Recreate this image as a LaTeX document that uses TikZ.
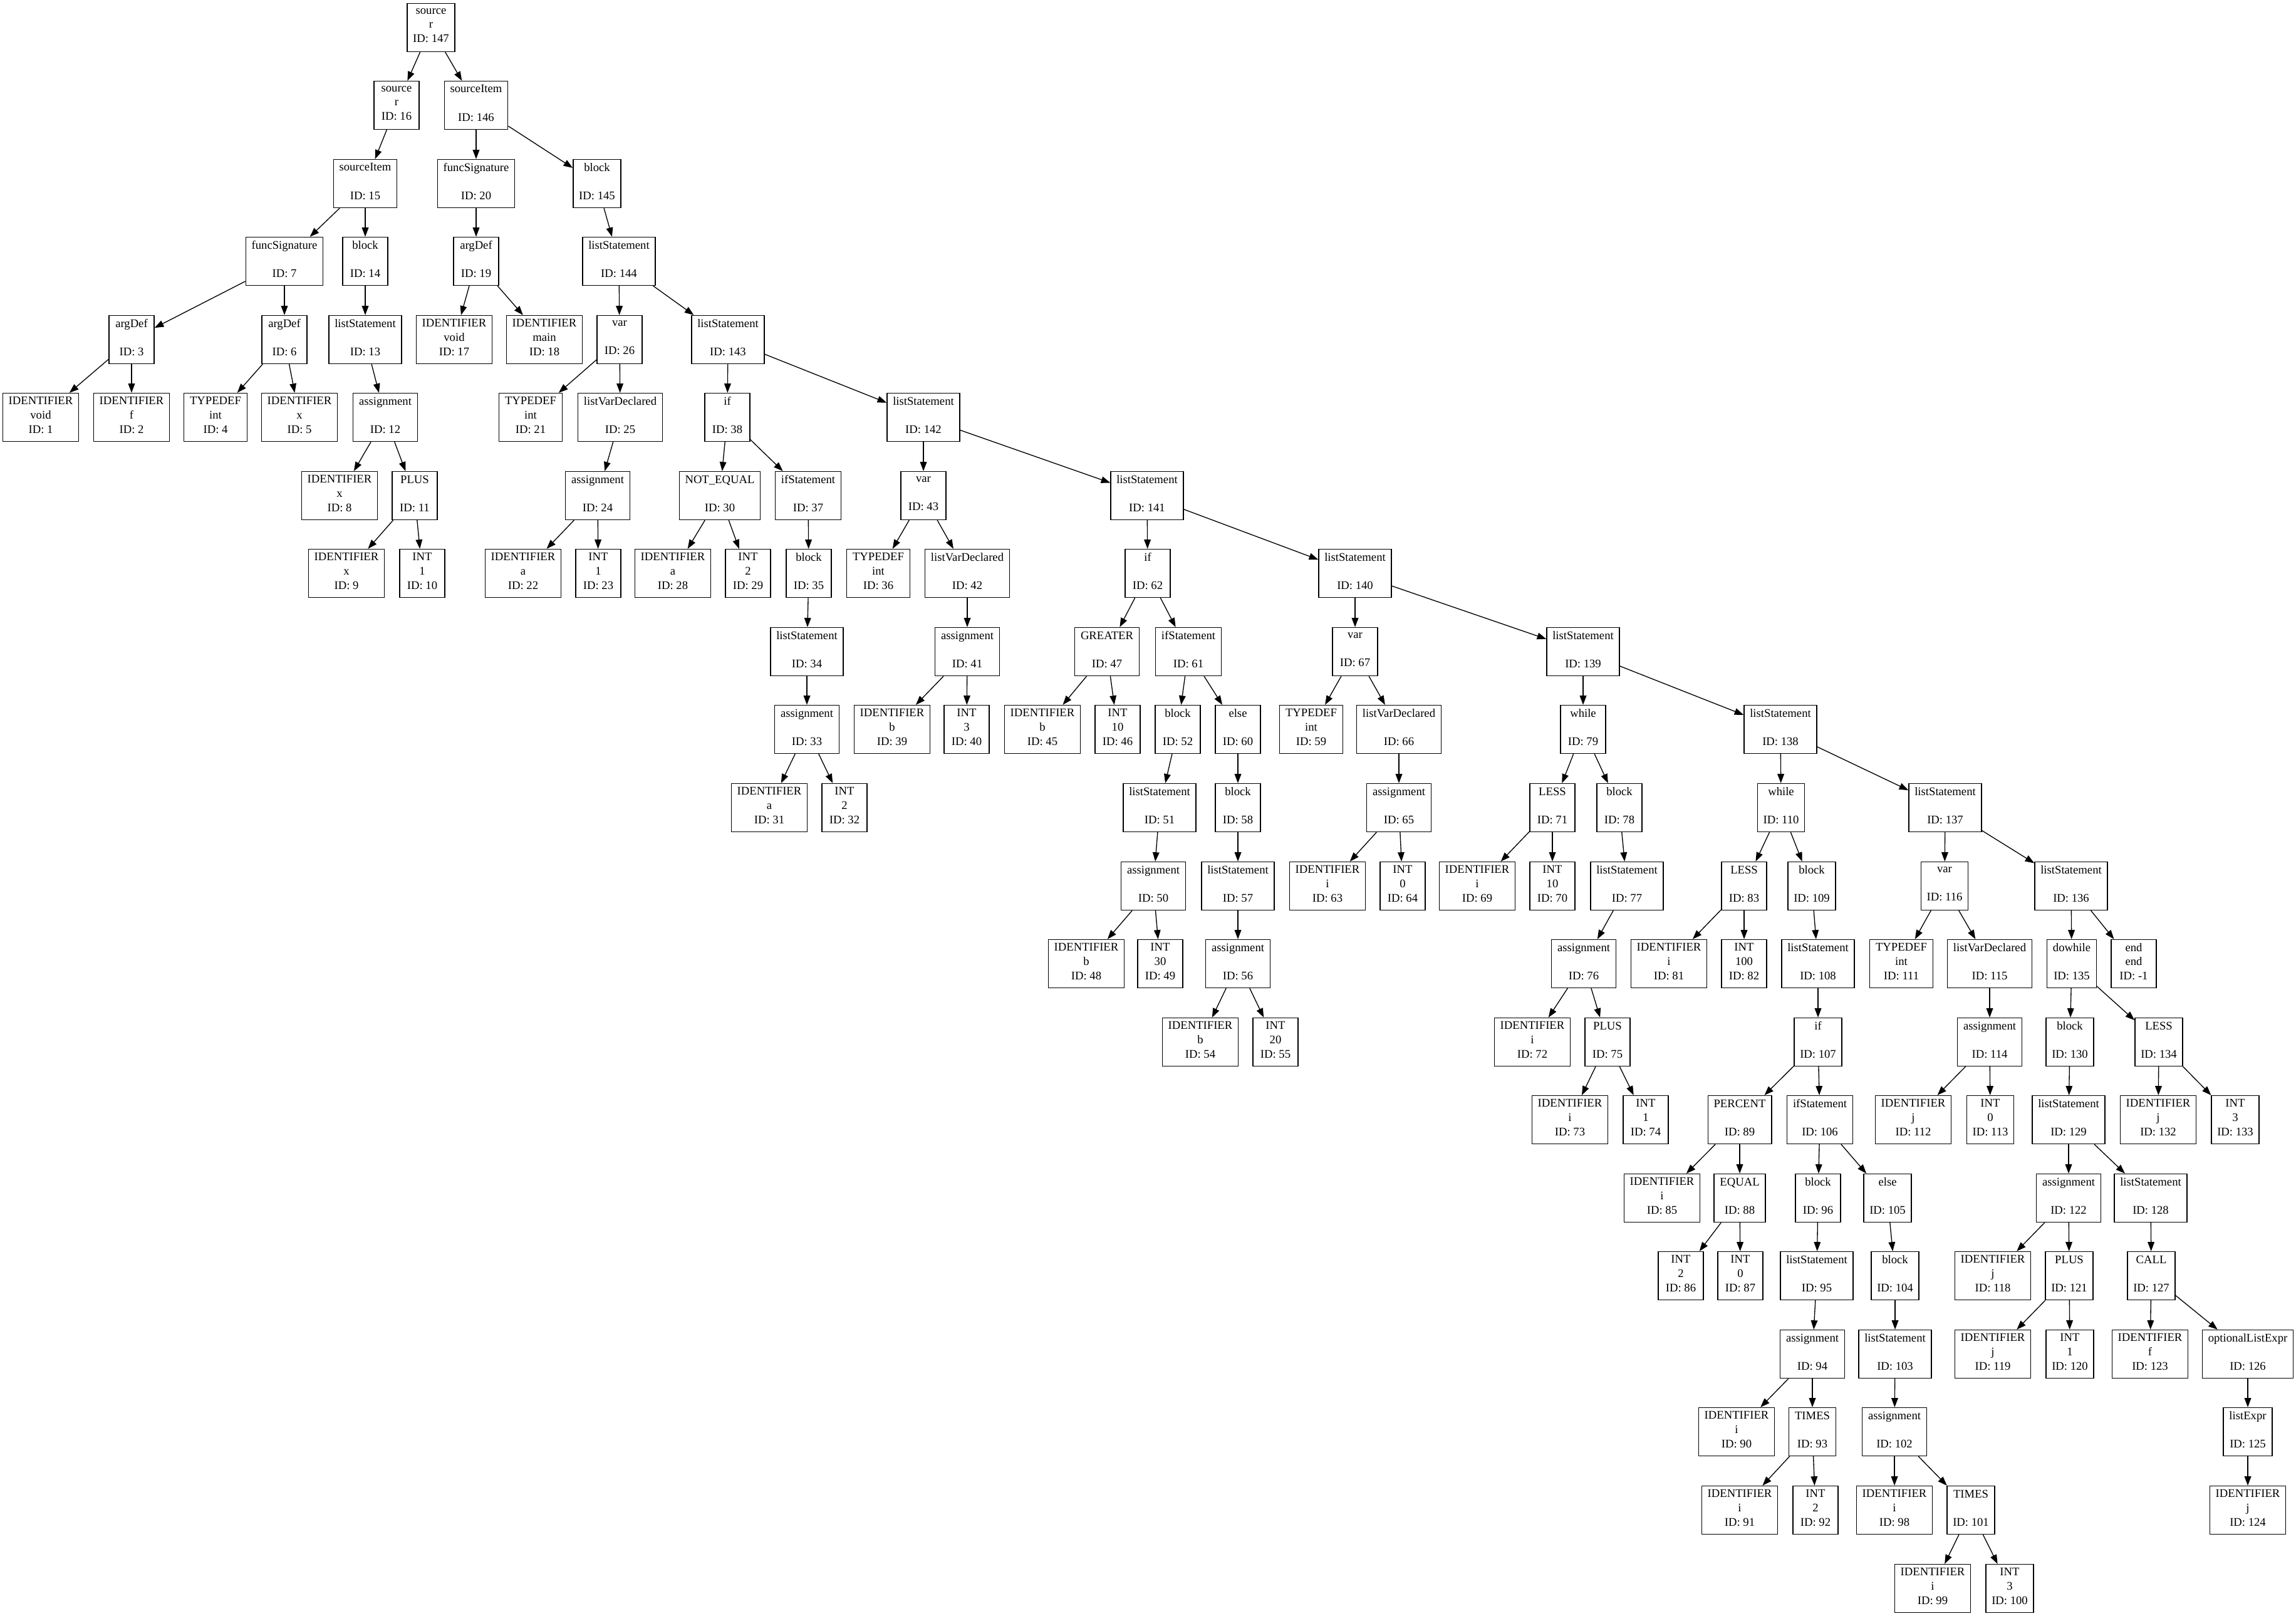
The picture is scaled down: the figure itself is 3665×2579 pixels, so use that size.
\documentclass[tikz,border=0pt]{standalone}
\usepackage{fontspec}
\setmainfont{Liberation Serif}
\usetikzlibrary{arrows.meta}

\begin{document}
\begin{tikzpicture}[x=0.75pt, y=-0.75pt, line width=1pt, >={Triangle[length=11pt,width=8pt]},
        tree node/.style={rectangle, draw, align=center, font=\fontsize{14}{17}\selectfont,
            minimum width=54pt, minimum height=57.75pt, inner xsep=7pt, inner ysep=0pt,
            execute at begin node={\rule{0pt}{18.5pt}}, execute at end node={\rule[-5.25pt]{0pt}{5.25pt}}}]
                \useasboundingbox (0, 0) rectangle (3665, 2579);

                \node[tree node] at (688, 44) (n147) {source\\r\\ID: 147};

                \node[tree node] at (633, 168) (n16) {source\\r\\ID: 16};
                \node[tree node] at (760, 168) (n146) {sourceItem\\~\\ID: 146};

                \node[tree node] at (583, 293) (n15) {sourceItem\\~\\ID: 15};
                \node[tree node] at (760, 293) (n20) {funcSignature\\~\\ID: 20};
                \node[tree node] at (953, 293) (n145) {block\\~\\ID: 145};

                \node[tree node] at (454, 417) (n7) {funcSignature\\~\\ID: 7};
                \node[tree node] at (583, 417) (n14) {block\\~\\ID: 14};
                \node[tree node] at (760, 417) (n19) {argDef\\~\\ID: 19};
                \node[tree node] at (988, 417) (n144) {listStatement\\~\\ID: 144};

                \node[tree node] at (210, 542) (n3) {argDef\\~\\ID: 3};
                \node[tree node] at (454, 542) (n6) {argDef\\~\\ID: 6};
                \node[tree node] at (583, 542) (n13) {listStatement\\~\\ID: 13};
                \node[tree node] at (725, 542) (n17) {IDENTIFIER\\void\\ID: 17};
                \node[tree node] at (869, 542) (n18) {IDENTIFIER\\main\\ID: 18};
                \node[tree node] at (989, 542) (n26) {var\\~\\ID: 26};
                \node[tree node] at (1162, 542) (n143) {listStatement\\~\\ID: 143};

                \node[tree node] at (65, 666) (n1) {IDENTIFIER\\void\\ID: 1};
                \node[tree node] at (210, 666) (n2) {IDENTIFIER\\f\\ID: 2};
                \node[tree node] at (344, 666) (n4) {TYPEDEF\\int\\ID: 4};
                \node[tree node] at (478, 666) (n5) {IDENTIFIER\\x\\ID: 5};
                \node[tree node] at (615, 666) (n12) {assignment\\~\\ID: 12};
                \node[tree node] at (847, 666) (n21) {TYPEDEF\\int\\ID: 21};
                \node[tree node] at (990, 666) (n25) {listVarDeclared\\~\\ID: 25};
                \node[tree node] at (1161, 666) (n38) {if\\~\\ID: 38};
                \node[tree node] at (1474, 666) (n142) {listStatement\\~\\ID: 142};

                \node[tree node] at (542, 791) (n8) {IDENTIFIER\\x\\ID: 8};
                \node[tree node] at (662, 791) (n11) {PLUS\\~\\ID: 11};
                \node[tree node] at (954, 791) (n24) {assignment\\~\\ID: 24};
                \node[tree node] at (1149, 791) (n30) {NOT\_EQUAL\\~\\ID: 30};
                \node[tree node] at (1290, 791) (n37) {ifStatement\\~\\ID: 37};
                \node[tree node] at (1474, 791) (n43) {var\\~\\ID: 43};
                \node[tree node] at (1831, 791) (n141) {listStatement\\~\\ID: 141};

                \node[tree node] at (553, 915) (n9) {IDENTIFIER\\x\\ID: 9};
                \node[tree node] at (674, 915) (n10) {INT\\1\\ID: 10};
                \node[tree node] at (835, 915) (n22) {IDENTIFIER\\a\\ID: 22};
                \node[tree node] at (955, 915) (n23) {INT\\1\\ID: 23};
                \node[tree node] at (1074, 915) (n28) {IDENTIFIER\\a\\ID: 28};
                \node[tree node] at (1194, 915) (n29) {INT\\2\\ID: 29};
                \node[tree node] at (1291, 915) (n35) {block\\~\\ID: 35};
                \node[tree node] at (1402, 915) (n36) {TYPEDEF\\int\\ID: 36};
                \node[tree node] at (1544, 915) (n42) {listVarDeclared\\~\\ID: 42};
                \node[tree node] at (1832, 915) (n62) {if\\~\\ID: 62};
                \node[tree node] at (2163, 915) (n140) {listStatement\\~\\ID: 140};

                \node[tree node] at (1288, 1040) (n34) {listStatement\\~\\ID: 34};
                \node[tree node] at (1544, 1040) (n41) {assignment\\~\\ID: 41};
                \node[tree node] at (1767, 1040) (n47) {GREATER\\~\\ID: 47};
                \node[tree node] at (1897, 1040) (n61) {ifStatement\\~\\ID: 61};
                \node[tree node] at (2163, 1040) (n67) {var\\~\\ID: 67};
                \node[tree node] at (2527, 1040) (n139) {listStatement\\~\\ID: 139};

                \node[tree node] at (1288, 1164) (n33) {assignment\\~\\ID: 33};
                \node[tree node] at (1424, 1164) (n39) {IDENTIFIER\\b\\ID: 39};
                \node[tree node] at (1543, 1164) (n40) {INT\\3\\ID: 40};
                \node[tree node] at (1664, 1164) (n45) {IDENTIFIER\\b\\ID: 45};
                \node[tree node] at (1784, 1164) (n46) {INT\\10\\ID: 46};
                \node[tree node] at (1880, 1164) (n52) {block\\~\\ID: 52};
                \node[tree node] at (1976, 1164) (n60) {else\\~\\ID: 60};
                \node[tree node] at (2093, 1164) (n59) {TYPEDEF\\int\\ID: 59};
                \node[tree node] at (2233, 1164) (n66) {listVarDeclared\\~\\ID: 66};
                \node[tree node] at (2527, 1164) (n79) {while\\~\\ID: 79};
                \node[tree node] at (2842, 1164) (n138) {listStatement\\~\\ID: 138};

                \node[tree node] at (1228, 1289) (n31) {IDENTIFIER\\a\\ID: 31};
                \node[tree node] at (1348, 1289) (n32) {INT\\2\\ID: 32};
                \node[tree node] at (1851, 1289) (n51) {listStatement\\~\\ID: 51};
                \node[tree node] at (1976, 1289) (n58) {block\\~\\ID: 58};
                \node[tree node] at (2233, 1289) (n65) {assignment\\~\\ID: 65};
                \node[tree node] at (2478, 1289) (n71) {LESS\\~\\ID: 71};
                \node[tree node] at (2585, 1289) (n78) {block\\~\\ID: 78};
                \node[tree node] at (2843, 1289) (n110) {while\\~\\ID: 110};
                \node[tree node] at (3105, 1289) (n137) {listStatement\\~\\ID: 137};

                \node[tree node] at (1841, 1414) (n50) {assignment\\~\\ID: 50};
                \node[tree node] at (1976, 1414) (n57) {listStatement\\~\\ID: 57};
                \node[tree node] at (2119, 1414) (n63) {IDENTIFIER\\i\\ID: 63};
                \node[tree node] at (2239, 1414) (n64) {INT\\0\\ID: 64};
                \node[tree node] at (2358, 1414) (n69) {IDENTIFIER\\i\\ID: 69};
                \node[tree node] at (2478, 1414) (n70) {INT\\10\\ID: 70};
                \node[tree node] at (2597, 1414) (n77) {listStatement\\~\\ID: 77};
                \node[tree node] at (2784, 1414) (n83) {LESS\\~\\ID: 83};
                \node[tree node] at (2892, 1414) (n109) {block\\~\\ID: 109};
                \node[tree node] at (3104, 1414) (n116) {var\\~\\ID: 116};
                \node[tree node] at (3306, 1414) (n136) {listStatement\\~\\ID: 136};

                \node[tree node] at (1734, 1538) (n48) {IDENTIFIER\\b\\ID: 48};
                \node[tree node] at (1852, 1538) (n49) {INT\\30\\ID: 49};
                \node[tree node] at (1976, 1538) (n56) {assignment\\~\\ID: 56};
                \node[tree node] at (2528, 1538) (n76) {assignment\\~\\ID: 76};
                \node[tree node] at (2664, 1538) (n81) {IDENTIFIER\\i\\ID: 81};
                \node[tree node] at (2784, 1538) (n82) {INT\\100\\ID: 82};
                \node[tree node] at (2902, 1538) (n108) {listStatement\\~\\ID: 108};
                \node[tree node] at (3035, 1538) (n111) {TYPEDEF\\int\\ID: 111};
                \node[tree node] at (3176, 1538) (n115) {listVarDeclared\\~\\ID: 115};
                \node[tree node] at (3307, 1538) (n135) {dowhile\\~\\ID: 135};
                \node[tree node] at (3406, 1538) (nend) {end\\end\\ID: -1};

                \node[tree node] at (1916, 1663) (n54) {IDENTIFIER\\b\\ID: 54};
                \node[tree node] at (2036, 1663) (n55) {INT\\20\\ID: 55};
                \node[tree node] at (2446, 1663) (n72) {IDENTIFIER\\i\\ID: 72};
                \node[tree node] at (2566, 1663) (n75) {PLUS\\~\\ID: 75};
                \node[tree node] at (2902, 1663) (n107) {if\\~\\ID: 107};
                \node[tree node] at (3176, 1663) (n114) {assignment\\~\\ID: 114};
                \node[tree node] at (3304, 1663) (n130) {block\\~\\ID: 130};
                \node[tree node] at (3446, 1663) (n134) {LESS\\~\\ID: 134};

                \node[tree node] at (2506, 1787) (n73) {IDENTIFIER\\i\\ID: 73};
                \node[tree node] at (2627, 1787) (n74) {INT\\1\\ID: 74};
                \node[tree node] at (2777, 1787) (n89) {PERCENT\\~\\ID: 89};
                \node[tree node] at (2905, 1787) (n106) {ifStatement\\~\\ID: 106};
                \node[tree node] at (3054, 1787) (n112) {IDENTIFIER\\j\\ID: 112};
                \node[tree node] at (3177, 1787) (n113) {INT\\0\\ID: 113};
                \node[tree node] at (3302, 1787) (n129) {listStatement\\~\\ID: 129};
                \node[tree node] at (3445, 1787) (n132) {IDENTIFIER\\j\\ID: 132};
                \node[tree node] at (3568, 1787) (n133) {INT\\3\\ID: 133};

                \node[tree node] at (2653, 1912) (n85) {IDENTIFIER\\i\\ID: 85};
                \node[tree node] at (2777, 1912) (n88) {EQUAL\\~\\ID: 88};
                \node[tree node] at (2902, 1912) (n96) {block\\~\\ID: 96};
                \node[tree node] at (3013, 1912) (n105) {else\\~\\ID: 105};
                \node[tree node] at (3302, 1912) (n122) {assignment\\~\\ID: 122};
                \node[tree node] at (3433, 1912) (n128) {listStatement\\~\\ID: 128};

                \node[tree node] at (2683, 2036) (n86) {INT\\2\\ID: 86};
                \node[tree node] at (2778, 2036) (n87) {INT\\0\\ID: 87};
                \node[tree node] at (2900, 2036) (n95) {listStatement\\~\\ID: 95};
                \node[tree node] at (3025, 2036) (n104) {block\\~\\ID: 104};
                \node[tree node] at (3181, 2036) (n118) {IDENTIFIER\\j\\ID: 118};
                \node[tree node] at (3303, 2036) (n121) {PLUS\\~\\ID: 121};
                \node[tree node] at (3434, 2036) (n127) {CALL\\~\\ID: 127};

                \node[tree node] at (2893, 2161) (n94) {assignment\\~\\ID: 94};
                \node[tree node] at (3025, 2161) (n103) {listStatement\\~\\ID: 103};
                \node[tree node] at (3181, 2161) (n119) {IDENTIFIER\\j\\ID: 119};
                \node[tree node] at (3304, 2161) (n120) {INT\\1\\ID: 120};
                \node[tree node] at (3432, 2161) (n123) {IDENTIFIER\\f\\ID: 123};
                \node[tree node] at (3588, 2161) (n126) {optionalListExpr\\~\\ID: 126};

                \node[tree node] at (2772, 2285) (n90) {IDENTIFIER\\i\\ID: 90};
                \node[tree node] at (2893, 2285) (n93) {TIMES\\~\\ID: 93};
                \node[tree node] at (3024, 2285) (n102) {assignment\\~\\ID: 102};
                \node[tree node] at (3588, 2285) (n125) {listExpr\\~\\ID: 125};

                \node[tree node] at (2777, 2410) (n91) {IDENTIFIER\\i\\ID: 91};
                \node[tree node] at (2898, 2410) (n92) {INT\\2\\ID: 92};
                \node[tree node] at (3024, 2410) (n98) {IDENTIFIER\\i\\ID: 98};
                \node[tree node] at (3146, 2410) (n101) {TIMES\\~\\ID: 101};
                \node[tree node] at (3588, 2410) (n124) {IDENTIFIER\\j\\ID: 124};

                \node[tree node] at (3085, 2535) (n99) {IDENTIFIER\\i\\ID: 99};
                \node[tree node] at (3208, 2535) (n100) {INT\\3\\ID: 100};

            \path[->] (n147) edge (n16) edge (n146);
            \path[->] (n16) edge (n15);
            \path[->] (n146) edge (n20) edge (n145);
            \path[->] (n15) edge (n7) edge (n14);
            \path[->] (n20) edge (n19);
            \path[->] (n145) edge (n144);
            \path[->] (n7) edge (n3) edge (n6);
            \path[->] (n14) edge (n13);
            \path[->] (n19) edge (n17) edge (n18);
            \path[->] (n144) edge (n26) edge (n143);
            \path[->] (n3) edge (n1) edge (n2);
            \path[->] (n6) edge (n4) edge (n5);
            \path[->] (n13) edge (n12);
            \path[->] (n26) edge (n21) edge (n25);
            \path[->] (n143) edge (n38) edge (n142);
            \path[->] (n12) edge (n8) edge (n11);
            \path[->] (n25) edge (n24);
            \path[->] (n38) edge (n30) edge (n37);
            \path[->] (n142) edge (n43) edge (n141);
            \path[->] (n11) edge (n9) edge (n10);
            \path[->] (n24) edge (n22) edge (n23);
            \path[->] (n30) edge (n28) edge (n29);
            \path[->] (n37) edge (n35);
            \path[->] (n43) edge (n36) edge (n42);
            \path[->] (n141) edge (n62) edge (n140);
            \path[->] (n35) edge (n34);
            \path[->] (n42) edge (n41);
            \path[->] (n62) edge (n47) edge (n61);
            \path[->] (n140) edge (n67) edge (n139);
            \path[->] (n34) edge (n33);
            \path[->] (n41) edge (n39) edge (n40);
            \path[->] (n47) edge (n45) edge (n46);
            \path[->] (n61) edge (n52) edge (n60);
            \path[->] (n67) edge (n59) edge (n66);
            \path[->] (n139) edge (n79) edge (n138);
            \path[->] (n33) edge (n31) edge (n32);
            \path[->] (n52) edge (n51);
            \path[->] (n60) edge (n58);
            \path[->] (n66) edge (n65);
            \path[->] (n79) edge (n71) edge (n78);
            \path[->] (n138) edge (n110) edge (n137);
            \path[->] (n51) edge (n50);
            \path[->] (n58) edge (n57);
            \path[->] (n65) edge (n63) edge (n64);
            \path[->] (n71) edge (n69) edge (n70);
            \path[->] (n78) edge (n77);
            \path[->] (n110) edge (n83) edge (n109);
            \path[->] (n137) edge (n116) edge (n136);
            \path[->] (n50) edge (n48) edge (n49);
            \path[->] (n57) edge (n56);
            \path[->] (n77) edge (n76);
            \path[->] (n83) edge (n81) edge (n82);
            \path[->] (n109) edge (n108);
            \path[->] (n116) edge (n111) edge (n115);
            \path[->] (n136) edge (n135) edge (nend);
            \path[->] (n56) edge (n54) edge (n55);
            \path[->] (n76) edge (n72) edge (n75);
            \path[->] (n108) edge (n107);
            \path[->] (n115) edge (n114);
            \path[->] (n135) edge (n130) edge (n134);
            \path[->] (n75) edge (n73) edge (n74);
            \path[->] (n107) edge (n89) edge (n106);
            \path[->] (n114) edge (n112) edge (n113);
            \path[->] (n130) edge (n129);
            \path[->] (n134) edge (n132) edge (n133);
            \path[->] (n89) edge (n85) edge (n88);
            \path[->] (n106) edge (n96) edge (n105);
            \path[->] (n129) edge (n122) edge (n128);
            \path[->] (n88) edge (n86) edge (n87);
            \path[->] (n96) edge (n95);
            \path[->] (n105) edge (n104);
            \path[->] (n122) edge (n118) edge (n121);
            \path[->] (n128) edge (n127);
            \path[->] (n95) edge (n94);
            \path[->] (n104) edge (n103);
            \path[->] (n121) edge (n119) edge (n120);
            \path[->] (n127) edge (n123) edge (n126);
            \path[->] (n94) edge (n90) edge (n93);
            \path[->] (n103) edge (n102);
            \path[->] (n126) edge (n125);
            \path[->] (n93) edge (n91) edge (n92);
            \path[->] (n102) edge (n98) edge (n101);
            \path[->] (n125) edge (n124);
            \path[->] (n101) edge (n99) edge (n100);

            \end{tikzpicture}
\end{document}
